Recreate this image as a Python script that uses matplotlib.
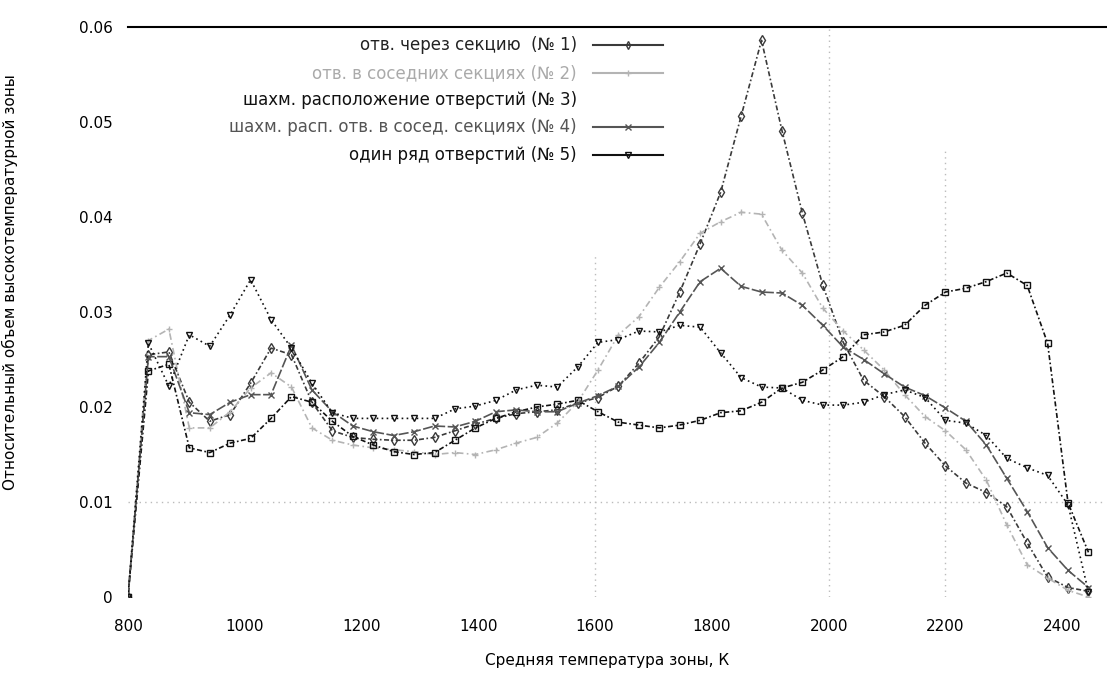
import matplotlib
matplotlib.use("Agg")
import matplotlib.pyplot as plt

# mean zone temperature, K
temps = [800, 835, 870, 905, 940, 975, 1010, 1045, 1080, 1115, 1150, 1185,
         1220, 1255, 1290, 1325, 1360, 1395, 1430, 1465, 1500, 1535, 1570, 1605,
         1640, 1675, 1710, 1745, 1780, 1815, 1850, 1885, 1920, 1955, 1990, 2025,
         2060, 2095, 2130, 2165, 2200, 2235, 2270, 2305, 2340, 2375, 2410, 2445]

# relative volume of the high-temperature zone
s1 = [0, 0.0255, 0.0258, 0.0205, 0.0185, 0.0192, 0.0225, 0.0262, 0.0255, 0.0205, 0.0175, 0.0168,
      0.0166, 0.0165, 0.0165, 0.0168, 0.0175, 0.0182, 0.0188, 0.0193, 0.0195, 0.0197, 0.0204, 0.0210,
      0.0222, 0.0246, 0.0274, 0.0321, 0.0372, 0.0426, 0.0506, 0.0586, 0.0491, 0.0404, 0.0328, 0.0268,
      0.0228, 0.0211, 0.0190, 0.0162, 0.0138, 0.0120, 0.0110, 0.0095, 0.0057, 0.0021, 0.0010, 0.0006]
s2 = [0, 0.0270, 0.0282, 0.0178, 0.0178, 0.0195, 0.0220, 0.0236, 0.0221, 0.0178, 0.0165, 0.0160,
      0.0157, 0.0155, 0.0153, 0.0150, 0.0152, 0.0150, 0.0155, 0.0162, 0.0168, 0.0183, 0.0205, 0.0239,
      0.0276, 0.0295, 0.0326, 0.0353, 0.0383, 0.0395, 0.0405, 0.0403, 0.0365, 0.0341, 0.0304, 0.0280,
      0.0260, 0.0239, 0.0213, 0.0190, 0.0175, 0.0155, 0.0123, 0.0076, 0.0034, 0.0020, 0.0007, 0.0]
s3 = [0, 0.0238, 0.0245, 0.0157, 0.0152, 0.0162, 0.0167, 0.0188, 0.0211, 0.0205, 0.0185, 0.0169,
      0.0160, 0.0153, 0.0150, 0.0152, 0.0165, 0.0178, 0.0188, 0.0195, 0.0200, 0.0203, 0.0207, 0.0195,
      0.0184, 0.0181, 0.0178, 0.0181, 0.0186, 0.0194, 0.0196, 0.0205, 0.0220, 0.0226, 0.0239, 0.0253,
      0.0276, 0.0279, 0.0286, 0.0307, 0.0321, 0.0325, 0.0332, 0.0341, 0.0328, 0.0267, 0.0099, 0.0047]
s4 = [0, 0.0253, 0.0253, 0.0194, 0.0192, 0.0205, 0.0213, 0.0213, 0.0265, 0.0218, 0.0195, 0.0180,
      0.0174, 0.0170, 0.0174, 0.0180, 0.0179, 0.0185, 0.0195, 0.0197, 0.0195, 0.0195, 0.0204, 0.0212,
      0.0222, 0.0242, 0.0268, 0.0300, 0.0332, 0.0346, 0.0327, 0.0321, 0.0320, 0.0307, 0.0286, 0.0263,
      0.0250, 0.0235, 0.0221, 0.0212, 0.0199, 0.0185, 0.0160, 0.0125, 0.0090, 0.0052, 0.0028, 0.0010]
s5 = [0, 0.0267, 0.0222, 0.0276, 0.0264, 0.0297, 0.0334, 0.0292, 0.0262, 0.0225, 0.0194, 0.0188,
      0.0188, 0.0188, 0.0188, 0.0188, 0.0198, 0.0201, 0.0207, 0.0218, 0.0223, 0.0221, 0.0242, 0.0268,
      0.0271, 0.0280, 0.0279, 0.0286, 0.0284, 0.0257, 0.0231, 0.0221, 0.0220, 0.0207, 0.0202, 0.0202,
      0.0205, 0.0213, 0.0218, 0.0210, 0.0186, 0.0183, 0.0170, 0.0146, 0.0136, 0.0128, 0.0097, 0.0005]

labels = ["отв. через секцию  (№ 1)",
          "отв. в соседних секциях (№ 2)",
          "шахм. расположение отверстий (№ 3)",
          "шахм. расп. отв. в сосед. секциях (№ 4)",
          "один ряд отверстий (№ 5)"]
yticks = [0, 0.01, 0.02, 0.03, 0.04, 0.05, 0.06]
ytick_labels = ["0", "0.01", "0.02", "0.03", "0.04", "0.05", "0.06"]
xticks = [800, 1000, 1200, 1400, 1600, 1800, 2000, 2200, 2400]

series = [s1, s2, s3, s4, s5]
colors = ["#3a3a3a", "#b4b4b4", "#111111", "#555555", "#111111"]
markers = ["d", "+", "s", "x", "v"]
styles = [(0, (3, 1.5, 1, 1.5)), (0, (4, 2, 1, 2)), (0, (1, 1.5, 3, 1.5)), (0, (6, 1.5)), (0, (1, 2))]
text_colors = ["#222222", "#aaaaaa", "#111111", "#555555", "#111111"]

plt.rcParams['font.family'] = ['DejaVu Sans']

fig = plt.figure(figsize=(11.07, 6.73), dpi=100)
ax = fig.add_axes([128 / 1107, 1 - 597 / 673, 978 / 1107, 570 / 673])

# partial grid like in the original
ax.axhline(0.01, color="#bbbbbb", ls=(0, (1, 3)), lw=1, zorder=0)
ax.vlines([1600, 2000, 2200], 0, [0.036, 0.06, 0.047], colors="#bbbbbb",
          linestyles=[(0, (1, 3))], lw=1, zorder=0)

for y, c, m, ls in zip(series, colors, markers, styles):
    ax.plot(temps, y, color=c, ls=ls, lw=1.2, marker=m, ms=5,
            mfc="none", mec=c, mew=1.0)

ax.set_xlim(800, 2475)
ax.set_ylim(0, 0.06)
ax.set_xticks(xticks)
ax.set_yticks(yticks)
ax.set_yticklabels(ytick_labels)
ax.tick_params(length=0, labelsize=11)
ax.tick_params(axis="y", pad=11)
ax.tick_params(axis="x", pad=16)
for side in ["left", "right", "bottom"]:
    ax.spines[side].set_visible(False)
ax.spines["top"].set_linewidth(1.5)

ax.set_xlabel("Средняя температура зоны, К", fontsize=11)
ax.set_ylabel("Относительный объем высокотемпературной зоны", fontsize=11)
ax.xaxis.set_label_coords(0.49, -0.098)
ax.yaxis.set_label_coords(-0.112, 0.553)

# gnuplot style key: right aligned text with sample line on the right
rows = [0.968, 0.919, 0.872, 0.825, 0.775]
for i, (lab, tc) in enumerate(zip(labels, text_colors)):
    ax.text(0.459, rows[i], lab, color=tc, fontsize=12, ha="right", va="center",
            transform=ax.transAxes)
    if i == 2:
        continue
    ax.plot([0.4755, 0.547], [rows[i], rows[i]], color=colors[i], lw=1.5,
            transform=ax.transAxes, clip_on=False)
    ax.plot([0.511], [rows[i]], color=colors[i], marker=markers[i], ms=4,
            mfc="none", transform=ax.transAxes, clip_on=False)

fig.savefig("out.png", dpi=100)
